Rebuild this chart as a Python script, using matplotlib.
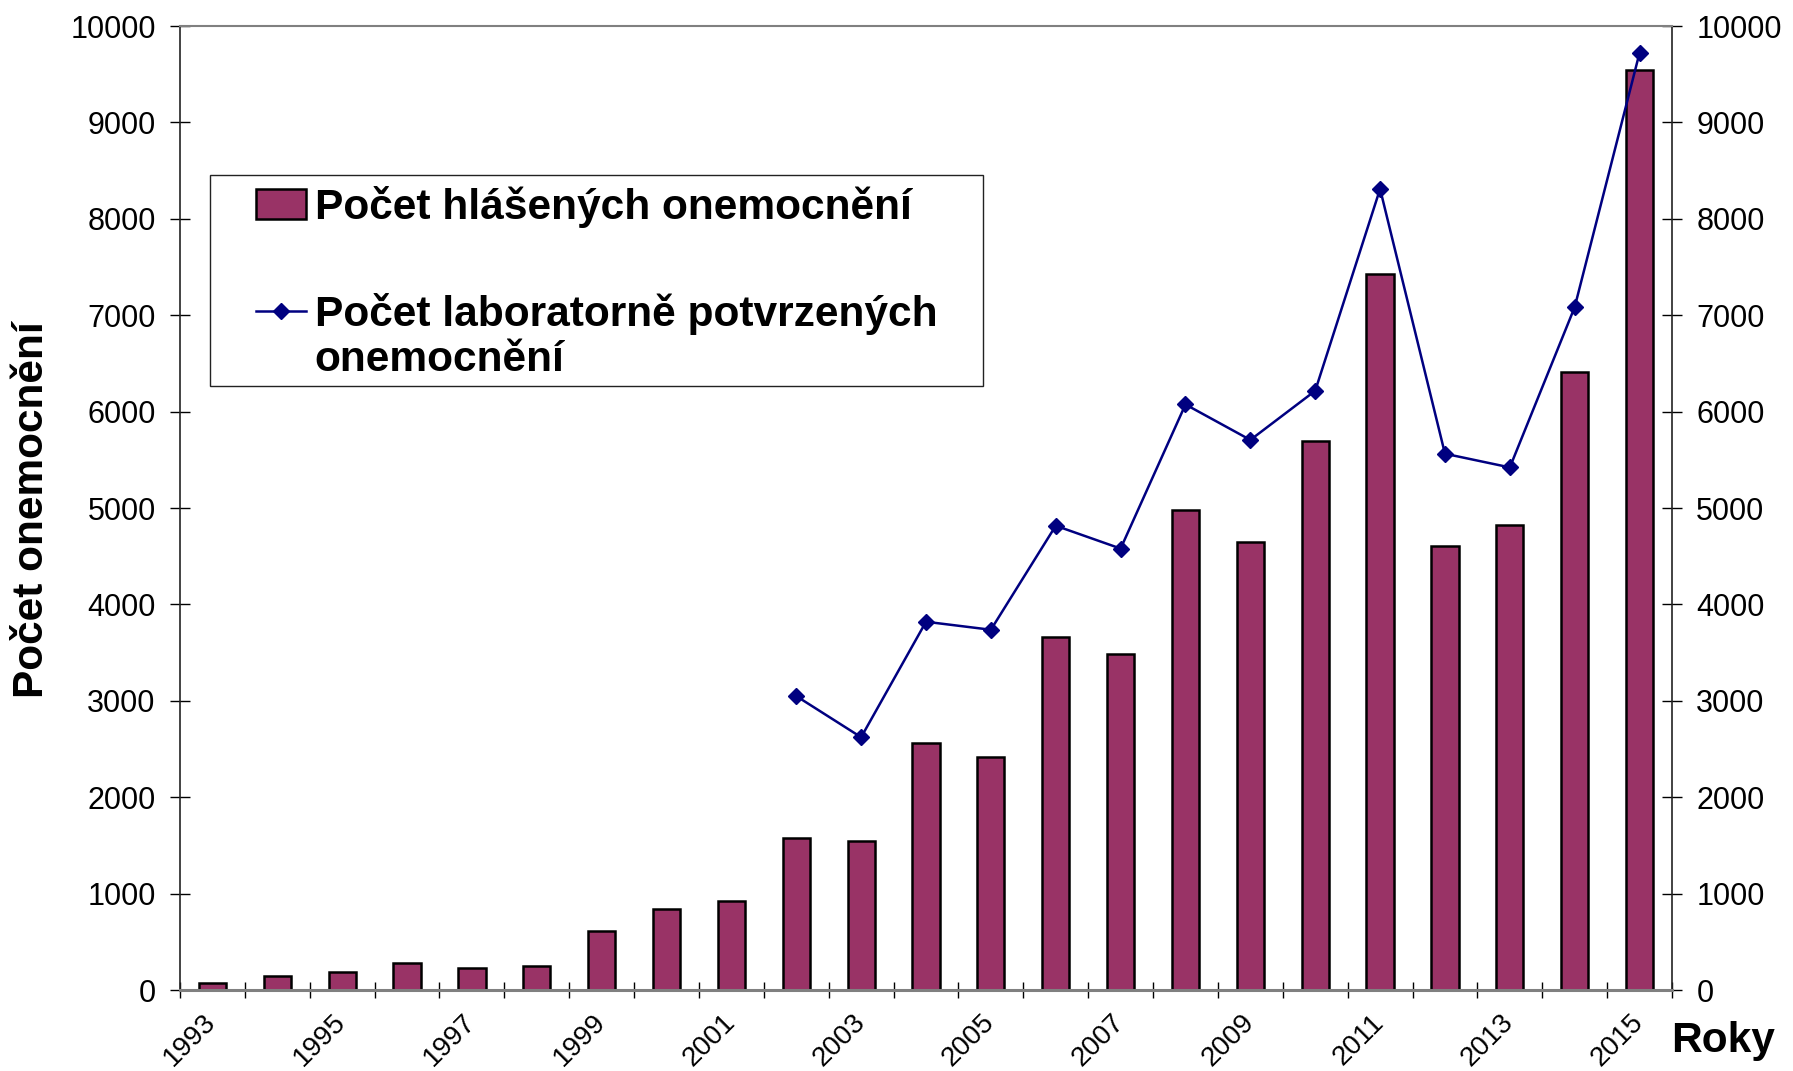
import matplotlib
matplotlib.use("Agg")
import matplotlib.pyplot as plt
import numpy as np
from matplotlib.lines import Line2D
from matplotlib.patches import Patch, Rectangle
from matplotlib.transforms import ScaledTranslation

plt.rcParams['font.family'] = ['Liberation Sans', 'DejaVu Sans']

years = list(range(1993, 2016))
reported = [70, 142, 190, 285, 225, 249, 617, 842, 925, 1578, 1542, 2562, 2420,
            3665, 3488, 4982, 4650, 5694, 7427, 4603, 4828, 6413, 9545]
lab_confirmed = [np.nan] * 9 + [3049, 2622, 3820, 3737, 4816, 4579, 6074, 5706,
                                6216, 8310, 5563, 5421, 7084, 9722]
yticks = list(range(0, 10001, 1000))
label_bars = "Počet hlášených onemocnění"
label_line_1 = "Počet laboratorně potvrzených"
label_line_2 = "onemocnění"
ylabel = "Počet onemocnění"
xlabel = "Roky"

W, H = 1793, 1071
fig = plt.figure(figsize=(W / 100, H / 100), dpi=100)
ax = fig.add_axes([180 / W, 1 - 990 / H, (1672 - 180) / W, (990 - 26) / H])

x = np.arange(len(years))
bar_color = '#993366'
line_color = '#000080'
ax.bar(x, reported, width=0.42, color=bar_color, edgecolor='black', linewidth=1.8, zorder=2)
ax.plot(x, lab_confirmed, color=line_color, lw=1.8, marker='D', ms=8, zorder=3)

ax.set_xlim(-0.5, len(years) - 0.5)
ax.set_ylim(0, 10000)
ax.set_yticks(yticks)
ax.set_yticklabels([str(v) for v in yticks])
ax.tick_params(axis='y', which='major', direction='inout', length=15, width=1,
               labelsize=22, pad=10, left=True, right=True, labelleft=True, labelright=True)

# category axis
ax.set_xticks(x[::2])
ax.set_xticklabels([str(y) for y in years[::2]], rotation=45, ha='right', va='top')
ax.set_xticks(np.arange(len(years) + 1) - 0.5, minor=True)
ax.tick_params(axis='x', which='major', length=0, labelsize=20, pad=14)
ax.tick_params(axis='x', which='minor', direction='inout', length=12, width=1)
for lbl in ax.get_xticklabels():
    lbl.set_transform(lbl.get_transform() + ScaledTranslation(9 / 100, 0, fig.dpi_scale_trans))

for s in ['left', 'right']:
    ax.spines[s].set_color('#222222')
    ax.spines[s].set_linewidth(1.2)
ax.spines['top'].set_color('#808080')
ax.spines['top'].set_linewidth(1.5)
ax.spines['bottom'].set_color('#808080')
ax.spines['bottom'].set_linewidth(2.2)

# legend frame
fig.patches.append(Rectangle((210 / W, 1 - 386 / H), (983 - 210) / W, (386 - 175) / H,
                             transform=fig.transFigure, facecolor='white',
                             edgecolor='#222222', linewidth=1.0, zorder=5))
handles = [Patch(facecolor=bar_color, edgecolor='black', linewidth=1.8),
           Line2D([0], [0], color=line_color, lw=1.8, marker='D', ms=8)]
leg = fig.legend(handles, [label_bars, label_line_1], loc='upper left',
                 bbox_to_anchor=(256 / W, 1 - 186 / H), frameon=False,
                 prop={'weight': 'bold', 'size': 30.6}, borderpad=0, borderaxespad=0,
                 handlelength=1.18, handletextpad=0.2, labelspacing=1.52)
leg.set_zorder(6)
fig.text(314 / W, 1 - 360 / H, label_line_2, fontsize=30.6, fontweight='bold',
         ha='left', va='center', zorder=7)

fig.text(32 / W, 1 - 510 / H, ylabel, rotation=90, fontsize=30.5, fontweight='bold',
         ha='center', va='center')
fig.text(1723 / W, 1 - 1041 / H, xlabel, fontsize=30.5, fontweight='bold',
         ha='center', va='center')

fig.savefig('out.png', dpi=100, facecolor='white')
